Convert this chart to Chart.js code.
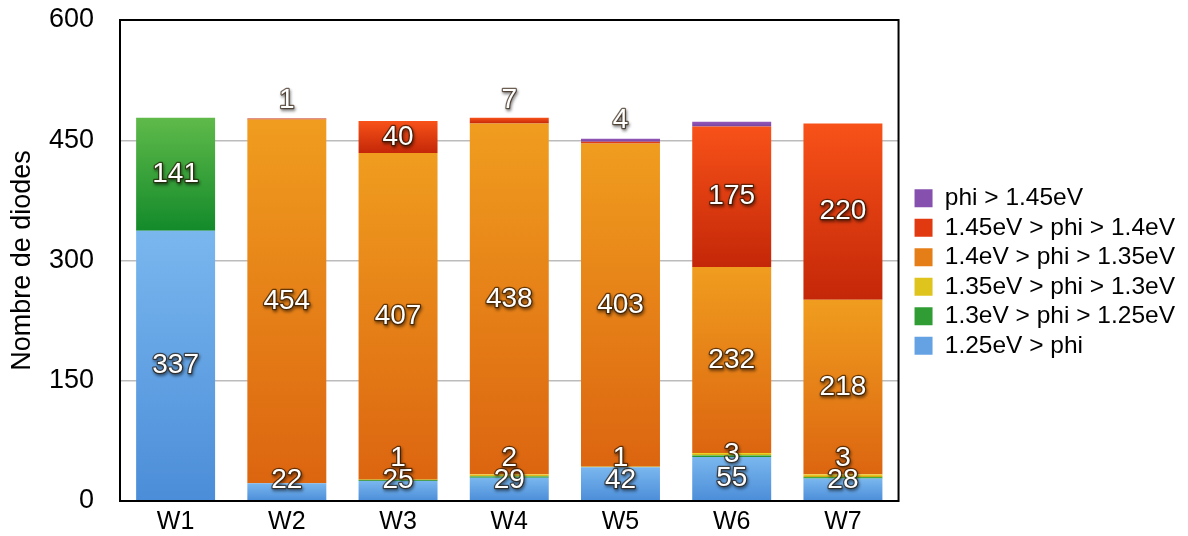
<!DOCTYPE html>
<html>
<head>
<meta charset="utf-8">
<script src="https://cdn.jsdelivr.net/npm/chart.js@4/dist/chart.umd.min.js"></script>
<style>
  html, body { margin: 0; padding: 0; background: #fff; }
  #wrap { width: 1188px; height: 536px; position: relative; }
</style>
</head>
<body>
<div id="wrap"><canvas id="diodes"></canvas></div>
<script>
const wafers = ['W1', 'W2', 'W3', 'W4', 'W5', 'W6', 'W7'];

// counts per wafer, bottom of the stack first
const below125 = [337, 22, 25, 29, 42, 55, 28];
const from125to13 = [141, 0, 1, 2, 0, 2, 2];
const from13to135 = [0, 0, 1, 2, 1, 3, 3];
const from135to14 = [0, 454, 407, 438, 403, 232, 218];
const from14to145 = [0, 1, 40, 7, 2, 175, 220];
const above145 = [0, 0, 0, 0, 4, 6, 0];

const yTicks = [0, 150, 300, 450, 600];

// values that are not written on the bars
const unlabeled = {
  1: [2, 3, 5, 6],
  4: [4],
  5: [5]
};

const FONT = "'Liberation Sans', Arial, Helvetica, sans-serif";

function gradientFill(top, bottom) {
  return function(context) {
    const chart = context.chart;
    const y = chart.scales.y;
    if (context.dataIndex === undefined || !y || !chart.chartArea) return bottom;
    const sets = chart.data.datasets;
    let base = 0;
    for (let i = 0; i < context.datasetIndex; i++) base += sets[i].data[context.dataIndex];
    const end = base + sets[context.datasetIndex].data[context.dataIndex];
    const y0 = y.getPixelForValue(end);
    const y1 = y.getPixelForValue(base);
    if (!isFinite(y0) || !isFinite(y1) || y1 - y0 < 1) return bottom;
    const g = chart.ctx.createLinearGradient(0, y0, 0, y1);
    g.addColorStop(0, top);
    g.addColorStop(1, bottom);
    return g;
  };
}

function series(label, data, top, bottom, legendColor) {
  return {
    label: label,
    data: data,
    backgroundColor: gradientFill(top, bottom),
    legendColor: legendColor,
    borderWidth: 0
  };
}

// black frame round the plot
const frame = {
  id: 'frame',
  afterDraw(chart) {
    const a = chart.chartArea, ctx = chart.ctx;
    ctx.save();
    ctx.strokeStyle = '#000';
    ctx.lineWidth = 2;
    ctx.strokeRect(a.left, a.top, a.right - a.left, a.bottom - a.top);
    ctx.restore();
  }
};

// leave a wider gap between the plot and the legend
const legendGap = {
  id: 'legendGap',
  afterLayout(chart) {
    const lg = chart.legend;
    if (!lg) return;
    lg.left += 11;
    lg.right += 11;
    lg.top -= 6;
    lg.bottom -= 6;
  }
};

// numbers written on each segment
const valueLabels = {
  id: 'valueLabels',
  afterDatasetsDraw(chart) {
    const ctx = chart.ctx;
    const sets = chart.data.datasets;
    const bottom = chart.chartArea.bottom;
    ctx.save();
    ctx.font = '28px ' + FONT;
    ctx.textAlign = 'center';
    ctx.textBaseline = 'middle';
    ctx.lineJoin = 'round';
    for (let j = 0; j < wafers.length; j++) {
      let last = -1;
      sets.forEach((ds, i) => { if (ds.data[j] > 0) last = i; });
      let prevY = Infinity;
      sets.forEach((ds, i) => {
        const v = ds.data[j];
        if (!(v > 0)) return;
        if (unlabeled[i] && unlabeled[i].includes(j)) return;
        const el = chart.getDatasetMeta(i).data[j];
        let y;
        if (i === last && el.base - el.y < 22) {
          y = el.y - 18;
        } else {
          y = Math.min((el.y + el.base) / 2, bottom - 21, prevY - 22);
        }
        prevY = y;
        const txt = String(v);
        ctx.shadowColor = 'rgba(0,0,0,0.7)';
        ctx.shadowBlur = 3;
        ctx.shadowOffsetX = 1;
        ctx.shadowOffsetY = 2;
        ctx.strokeStyle = 'rgba(40,20,0,0.65)';
        ctx.lineWidth = 2.5;
        ctx.strokeText(txt, el.x, y);
        ctx.shadowColor = 'transparent';
        ctx.fillStyle = '#fff';
        ctx.fillText(txt, el.x, y);
      });
    }
    ctx.restore();
  }
};

new Chart(document.getElementById('diodes'), {
  type: 'bar',
  data: {
    labels: wafers,
    datasets: [
      series('1.25eV > phi', below125, '#7ab7ef', '#4b8dd8', '#64a2e4'),
      series('1.3eV > phi > 1.25eV', from125to13, '#5fba4a', '#138a2a', '#2f9c34'),
      series('1.35eV > phi > 1.3eV', from13to135, '#f6e42a', '#c89c12', '#e0c41e'),
      series('1.4eV > phi > 1.35eV', from135to14, '#f09d1f', '#dc6510', '#e67e18'),
      series('1.45eV > phi > 1.4eV', from14to145, '#f85219', '#c42708', '#e23a10'),
      series('phi > 1.45eV', above145, '#9559ba', '#7743a0', '#8650ae')
    ]
  },
  options: {
    responsive: true,
    maintainAspectRatio: false,
    animation: false,
    datasets: { bar: { barPercentage: 0.71, categoryPercentage: 1 } },
    layout: { padding: { top: 20, right: 14, bottom: 0, left: 0 } },
    plugins: {
      tooltip: { enabled: false },
      legend: {
        position: 'right',
        reverse: true,
        labels: {
          boxWidth: 18,
          boxHeight: 18,
          padding: 5,
          color: '#000',
          font: { family: FONT, size: 24.5 },
          generateLabels(chart) {
            return chart.data.datasets.map((ds, i) => ({
              text: ds.label,
              fillStyle: ds.legendColor,
              strokeStyle: ds.legendColor,
              lineWidth: 0,
              hidden: false,
              datasetIndex: i
            }));
          }
        }
      }
    },
    scales: {
      x: {
        stacked: true,
        grid: { display: false, drawTicks: false },
        border: { display: false },
        ticks: { color: '#000', font: { family: FONT, size: 25 }, padding: 6 },
        afterFit(scale) { scale.height = 35; }
      },
      y: {
        stacked: true,
        min: 0,
        max: 600,
        afterBuildTicks(scale) { scale.ticks = yTicks.map(v => ({ value: v })); },
        border: { display: false },
        grid: {
          drawTicks: false,
          lineWidth: 1.5,
          color: c => (c.tick.value === 0 || c.tick.value === 600) ? 'rgba(0,0,0,0)' : '#bcbcbc'
        },
        ticks: { color: '#000', font: { family: FONT, size: 27 }, padding: 26 },
        title: {
          display: true,
          text: 'Nombre de diodes',
          color: '#000',
          font: { family: FONT, size: 27 },
          padding: { top: 6, bottom: 4 }
        },
        afterFit(scale) {
          scale.width = 120;
          scale.paddingTop = 0;
          scale.paddingBottom = 0;
        }
      }
    }
  },
  plugins: [frame, legendGap, valueLabels]
});
</script>
</body>
</html>
